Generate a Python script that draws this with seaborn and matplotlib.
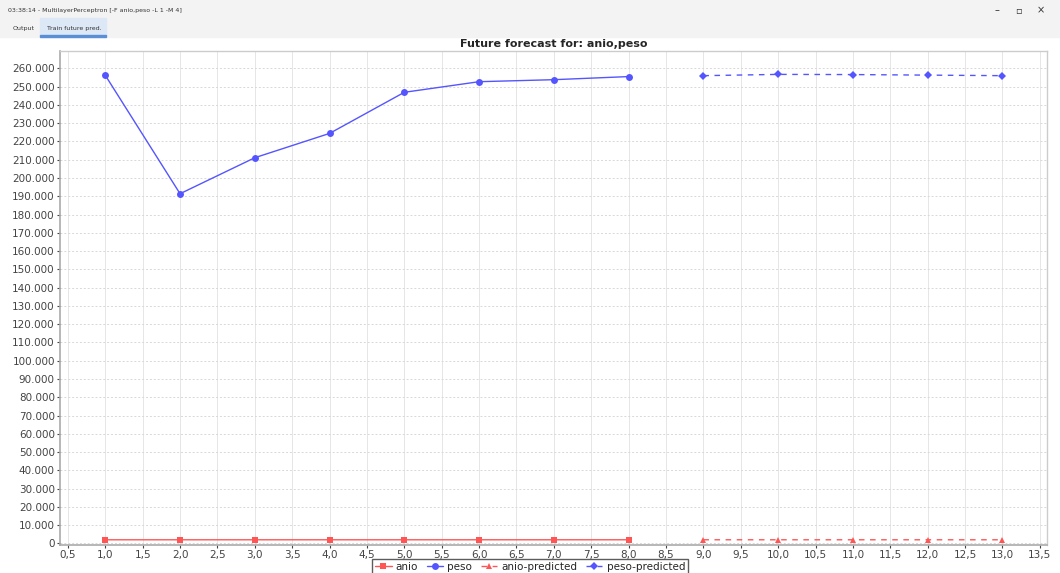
import pandas as pd
import seaborn as sns
import matplotlib.pyplot as plt
from matplotlib.ticker import MultipleLocator, FuncFormatter

# Data
steps = [1, 2, 3, 4, 5, 6, 7, 8]
anio = [2010, 2011, 2012, 2013, 2014, 2015, 2016, 2017]
peso = [256200, 191400, 211100, 224400, 246900, 252700, 253800, 255500]

future_steps = [9, 10, 11, 12, 13]
anio_pred = [2017, 2017, 2016, 2016, 2016]
peso_pred = [256000, 256700, 256600, 256300, 256000]

train = pd.DataFrame({"step": steps, "anio": anio, "peso": peso})
future = pd.DataFrame({"step": future_steps, "anio-predicted": anio_pred,
                       "peso-predicted": peso_pred})

sns.set_style("whitegrid")
plt.rcParams['font.family'] = ['DejaVu Sans']

fig = plt.figure(figsize=(10.6, 5.73), dpi=100)
fig.patch.set_facecolor("white")
ax = fig.add_axes([0.057, 0.049, 0.931, 0.862])

red = "#ff5555"
blue = "#5555ff"

sns.lineplot(data=train, x="step", y="anio", ax=ax, color=red, marker="s",
             markersize=5, linewidth=1, markeredgewidth=0, label="anio")
sns.lineplot(data=train, x="step", y="peso", ax=ax, color=blue, marker="o",
             markersize=5, linewidth=1, markeredgewidth=0, label="peso")
sns.lineplot(data=future, x="step", y="anio-predicted", ax=ax, color=red,
             marker="^", markersize=5, linewidth=1, markeredgewidth=0,
             linestyle=(0, (4, 4)), label="anio-predicted")
sns.lineplot(data=future, x="step", y="peso-predicted", ax=ax, color=blue,
             marker="D", markersize=4, linewidth=1, markeredgewidth=0,
             linestyle=(0, (4, 4)), label="peso-predicted")

ax.set_xlim(0.4, 13.6)
ax.set_ylim(-800, 269500)
ax.xaxis.set_major_locator(MultipleLocator(0.5))
ax.yaxis.set_major_locator(MultipleLocator(10000))
ax.xaxis.set_major_formatter(FuncFormatter(lambda v, p: f"{v:.1f}".replace(".", ",")))
ax.yaxis.set_major_formatter(FuncFormatter(lambda v, p: f"{int(v):,}".replace(",", ".")))
ax.tick_params(axis="both", labelsize=7.5, colors="#444444", length=2,
               direction="out", left=True, bottom=True, pad=2)
ax.set_xlabel("")
ax.set_ylabel("")
ax.grid(False)
ax.xaxis.grid(True, color="#e6e6e6", linestyle="-", linewidth=0.7)
ax.yaxis.grid(True, color="#d8d8d8", linestyle=(0, (2, 2)), linewidth=0.7)
for side in ["top", "right"]:
    ax.spines[side].set_visible(True)
    ax.spines[side].set_color("#cccccc")
    ax.spines[side].set_linewidth(1)
for side in ["left", "bottom"]:
    ax.spines[side].set_color("#aaaaaa")
    ax.spines[side].set_linewidth(1.2)
ax.set_title("Future forecast for: anio,peso", fontsize=8, fontweight="bold", pad=3)

handles, labels = ax.get_legend_handles_labels()
ax.get_legend().remove()
leg = fig.legend(handles, labels, loc="lower center", bbox_to_anchor=(0.5, -0.012),
                 ncol=4, fontsize=7.5, frameon=True, fancybox=False,
                 handlelength=1.6, handletextpad=0.4, columnspacing=0.8,
                 borderpad=0.25, edgecolor="#333333")
leg.get_frame().set_linewidth(1)

# window chrome
fig.patches.append(plt.Rectangle((0, 0.935), 1, 0.065, transform=fig.transFigure,
                                 color="#f3f3f3", zorder=0))
fig.patches.append(plt.Rectangle((0.038, 0.938), 0.062, 0.03, transform=fig.transFigure,
                                 color="#dce8f5", zorder=0))
fig.text(0.008, 0.982, "03:38:14 - MultilayerPerceptron [-F anio,peso -L 1 -M 4]",
         fontsize=4.5, color="#333333", va="center")
fig.text(0.012, 0.951, "Output", fontsize=4.5, color="#333333", va="center")
fig.text(0.044, 0.951, "Train future pred.", fontsize=4.5, color="#333333", va="center")
fig.patches.append(plt.Rectangle((0.038, 0.936), 0.062, 0.003, transform=fig.transFigure,
                                 color="#5a8fd6"))
fig.text(0.938, 0.982, "–", fontsize=7, color="#333333", va="center")
fig.text(0.958, 0.982, "▫", fontsize=7, color="#333333", va="center")
fig.text(0.978, 0.982, "×", fontsize=7, color="#333333", va="center")

fig.savefig("out.png", dpi=100)
